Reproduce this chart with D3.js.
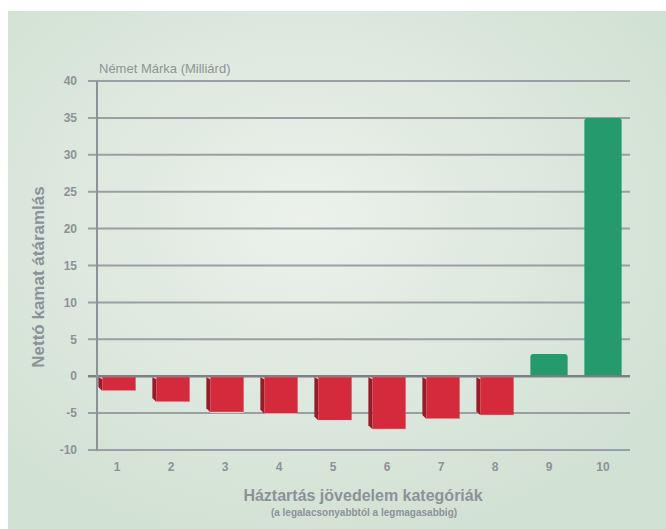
<!DOCTYPE html>
<html>
<head>
<meta charset="utf-8">
<script src="https://cdn.jsdelivr.net/npm/d3@7"></script>
<style>
  body { margin: 0; background: #ffffff; }
  text { font-family: "Liberation Sans", Arial, sans-serif; }
</style>
</head>
<body>
<div class="chart"></div>
<script>
// Data.
const categories = ["1", "2", "3", "4", "5", "6", "7", "8", "9", "10"];
const values = [-2.0, -3.5, -4.9, -5.1, -6.0, -7.2, -5.8, -5.3, 3.0, 35.0];
const yTicks = [-10, -5, 0, 5, 10, 15, 20, 25, 30, 35, 40];

const width = 666, height = 529;
const svg = d3.select(".chart")
  .append("svg")
  .attr("width", width)
  .attr("height", height);

// Background gradient of the panel.
const defs = svg.append("defs");
const grad = defs.append("radialGradient")
  .attr("id", "bg")
  .attr("cx", "45%").attr("cy", "40%").attr("r", "65%");
grad.append("stop").attr("offset", "0%").attr("stop-color", "#ecf1ec");
grad.append("stop").attr("offset", "55%").attr("stop-color", "#dde8de");
grad.append("stop").attr("offset", "100%").attr("stop-color", "#d1e1d3");

svg.append("rect")
  .attr("x", 8).attr("y", 11)
  .attr("width", width - 8).attr("height", height - 11)
  .attr("fill", "url(#bg)");

// Scales.
const y = d3.scaleLinear().domain([-10, 40]).range([450, 81]);
const x = d3.scaleBand()
  .domain(categories)
  .range([90, 630])
  .paddingInner(0.31)
  .paddingOuter(0.155);

const gray = "#8d9297";

// Gridlines (they also work as the ticks left of the axis).
svg.append("g")
  .selectAll("line")
  .data(yTicks)
  .join("line")
  .attr("x1", 88).attr("x2", 630)
  .attr("y1", d => y(d)).attr("y2", d => y(d))
  .attr("stroke", d => d === 0 ? "#7c8186" : "#9a9fa4")
  .attr("stroke-width", d => d === 0 ? 2.5 : 2);

// Vertical axis line.
svg.append("line")
  .attr("x1", 97).attr("x2", 97)
  .attr("y1", y(40)).attr("y2", y(-10) + 1)
  .attr("stroke", gray)
  .attr("stroke-width", 2);

// Y tick labels.
svg.append("g")
  .selectAll("text")
  .data(yTicks)
  .join("text")
  .attr("x", 77)
  .attr("y", d => y(d))
  .attr("dy", "0.35em")
  .attr("text-anchor", "end")
  .attr("font-size", "12px")
  .attr("font-weight", "bold")
  .attr("fill", gray)
  .text(d => d);

// X tick labels.
svg.append("g")
  .selectAll("text")
  .data(categories)
  .join("text")
  .attr("x", d => x(d) + x.bandwidth() / 2)
  .attr("y", 471)
  .attr("text-anchor", "middle")
  .attr("font-size", "12px")
  .attr("font-weight", "bold")
  .attr("fill", gray)
  .text(d => d);

// Bars.
const side = 4;
const bars = svg.append("g");
values.forEach((v, i) => {
  const x0 = x(categories[i]);
  const w = x.bandwidth();
  const y0 = y(0) + 1;
  if (v < 0) {
    const yb = y(v);
    // Darker side face for the 3D look.
    bars.append("path")
      .attr("d", `M${x0},${y0} L${x0 + side},${y0 + 2} L${x0 + side},${yb} L${x0},${yb - 4} Z`)
      .attr("fill", "#951d29");
    // Front face.
    bars.append("rect")
      .attr("x", x0 + side)
      .attr("y", y0)
      .attr("width", w - side)
      .attr("height", yb - y0)
      .attr("fill", "#d52a3b");
    bars.append("line")
      .attr("x1", x0 + side).attr("x2", x0 + w)
      .attr("y1", yb).attr("y2", yb)
      .attr("stroke", "#f0d7d6")
      .attr("stroke-width", 1);
  } else {
    const yt = y(v);
    const h = y(0) - 1 - yt;
    const r = 3;
    bars.append("path")
      .attr("d", `M${x0},${yt + h} L${x0},${yt + r} Q${x0},${yt} ${x0 + r},${yt}
        L${x0 + w - r},${yt} Q${x0 + w},${yt} ${x0 + w},${yt + r} L${x0 + w},${yt + h} Z`)
      .attr("fill", "#259a6d");
  }
});

// Unit label above the plot.
svg.append("text")
  .attr("x", 99)
  .attr("y", 73)
  .attr("font-size", "13px")
  .attr("fill", "#8f9499")
  .text("Német Márka (Milliárd)");

// Y axis title.
svg.append("text")
  .attr("transform", "translate(44,277) rotate(-90)")
  .attr("text-anchor", "middle")
  .attr("font-size", "17px")
  .attr("font-weight", "bold")
  .attr("fill", gray)
  .text("Nettó kamat átáramlás");

// X axis title and subtitle.
svg.append("text")
  .attr("x", 363)
  .attr("y", 501)
  .attr("text-anchor", "middle")
  .attr("font-size", "16px")
  .attr("font-weight", "bold")
  .attr("fill", gray)
  .text("Háztartás jövedelem kategóriák");

svg.append("text")
  .attr("x", 364)
  .attr("y", 516)
  .attr("text-anchor", "middle")
  .attr("font-size", "10px")
  .attr("font-weight", "bold")
  .attr("fill", gray)
  .text("(a legalacsonyabbtól a legmagasabbig)");
</script>
</body>
</html>
